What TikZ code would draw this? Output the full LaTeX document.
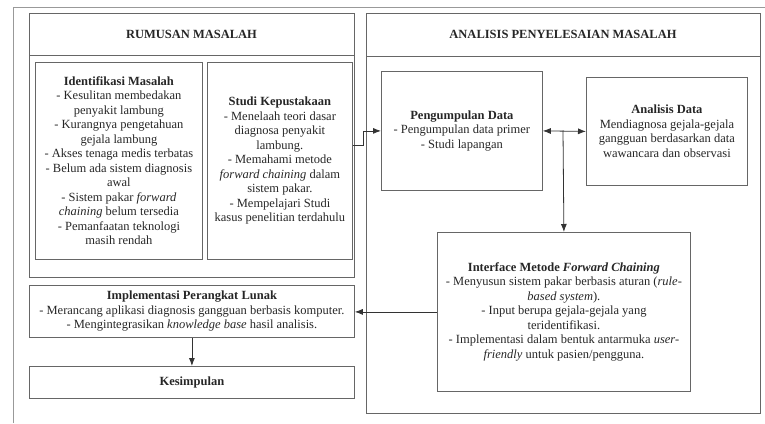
\documentclass[tikz,border=0pt]{standalone}
\usepackage{fontspec}
\setmainfont{Liberation Serif}
\usetikzlibrary{arrows.meta}
\newcommand\dgfont{\fontsize{12.5}{14.5}\selectfont}
\begin{document}
\begin{tikzpicture}[x=1pt,y=-1pt,
  frame/.style={draw=black!60, line width=0.8pt},
  box/.style={frame, anchor=north west, inner sep=0pt, align=center, font=\dgfont, text=black!85},
  hdr/.style={font=\dgfont\bfseries, text=black!85, inner sep=0pt},
  arr/.style={-{Latex[length=8pt,width=6pt]}, line width=0.8pt, draw=black!80},
  arrb/.style={{Latex[length=8pt,width=6pt]}-{Latex[length=8pt,width=6pt]}, line width=0.8pt, draw=black!80}]
\useasboundingbox (0,0) rectangle (765,423);
\draw[black!40, line width=0.8pt] (13,423) -- (13,7) -- (765,7);
% left panel
\node[box, minimum width=325pt, minimum height=264pt] (rum) at (29,13) {};
\draw[frame] (29,55) -- (354,55);
\node[hdr] (rumh) at (191.5,34) {RUMUSAN MASALAH};
\node[box, minimum width=167pt, minimum height=197pt] (idm) at (35,62) {\textbf{Identifikasi Masalah}\\- Kesulitan membedakan\\penyakit lambung\\- Kurangnya pengetahuan\\gejala lambung\\- Akses tenaga medis terbatas\\- Belum ada sistem diagnosis\\awal\\- Sistem pakar \textit{forward}\\\textit{chaining} belum tersedia\\- Pemanfaatan teknologi\\masih rendah};
\node[box, minimum width=145pt, minimum height=197pt] (stk) at (207,62) {\textbf{Studi Kepustakaan}\\- Menelaah teori dasar\\diagnosa penyakit\\lambung.\\- Memahami metode\\\textit{forward chaining} dalam\\sistem pakar.\\- Mempelajari Studi\\kasus penelitian terdahulu};
% right panel
\node[box, minimum width=394pt, minimum height=400pt] (ana) at (366,13) {};
\draw[frame] (366,56) -- (760,56);
\node[hdr] (anah) at (563,34) {ANALISIS PENYELESAIAN MASALAH};
\node[box, minimum width=161pt, minimum height=119pt] (peng) at (381,71) {\textbf{Pengumpulan Data}\\- Pengumpulan data primer\\- Studi lapangan};
\node[box, minimum width=161pt, minimum height=108pt] (ad) at (586,77) {\textbf{Analisis Data}\\Mendiagnosa gejala-gejala\\gangguan berdasarkan data\\wawancara dan observasi};
\node[box, minimum width=253pt, minimum height=159pt] (ifc) at (437,232) {\textbf{Interface Metode \textit{Forward Chaining}}\\- Menyusun sistem pakar berbasis aturan (\textit{rule-}\\\textit{based system}).\\- Input berupa gejala-gejala yang\\teridentifikasi.\\- Implementasi dalam bentuk antarmuka \textit{user-}\\\textit{friendly} untuk pasien/pengguna.};
% bottom left
\node[box, minimum width=325pt, minimum height=52pt] (imp) at (29,285) {\textbf{Implementasi Perangkat Lunak}\\- Merancang aplikasi diagnosis gangguan berbasis komputer.\\- Mengintegrasikan \textit{knowledge base} hasil analisis.};
\node[box, minimum width=325pt, minimum height=32pt] (kes) at (29,366) {\textbf{Kesimpulan}};
% connectors
\coordinate (j1) at (363,145);
\coordinate (j2) at (563,130.5);
\draw[arr] (stk.east |- j1) -- (j1) |- (peng.west);
\draw[arrb] (peng.east) -- (ad.west);
\draw[arr] (j2) -- (ifc.north);
\draw[arr] (ifc.west) -- (imp.east |- ifc.west);
\draw[arr] (imp.south) -- (kes.north);
\end{tikzpicture}
\end{document}
